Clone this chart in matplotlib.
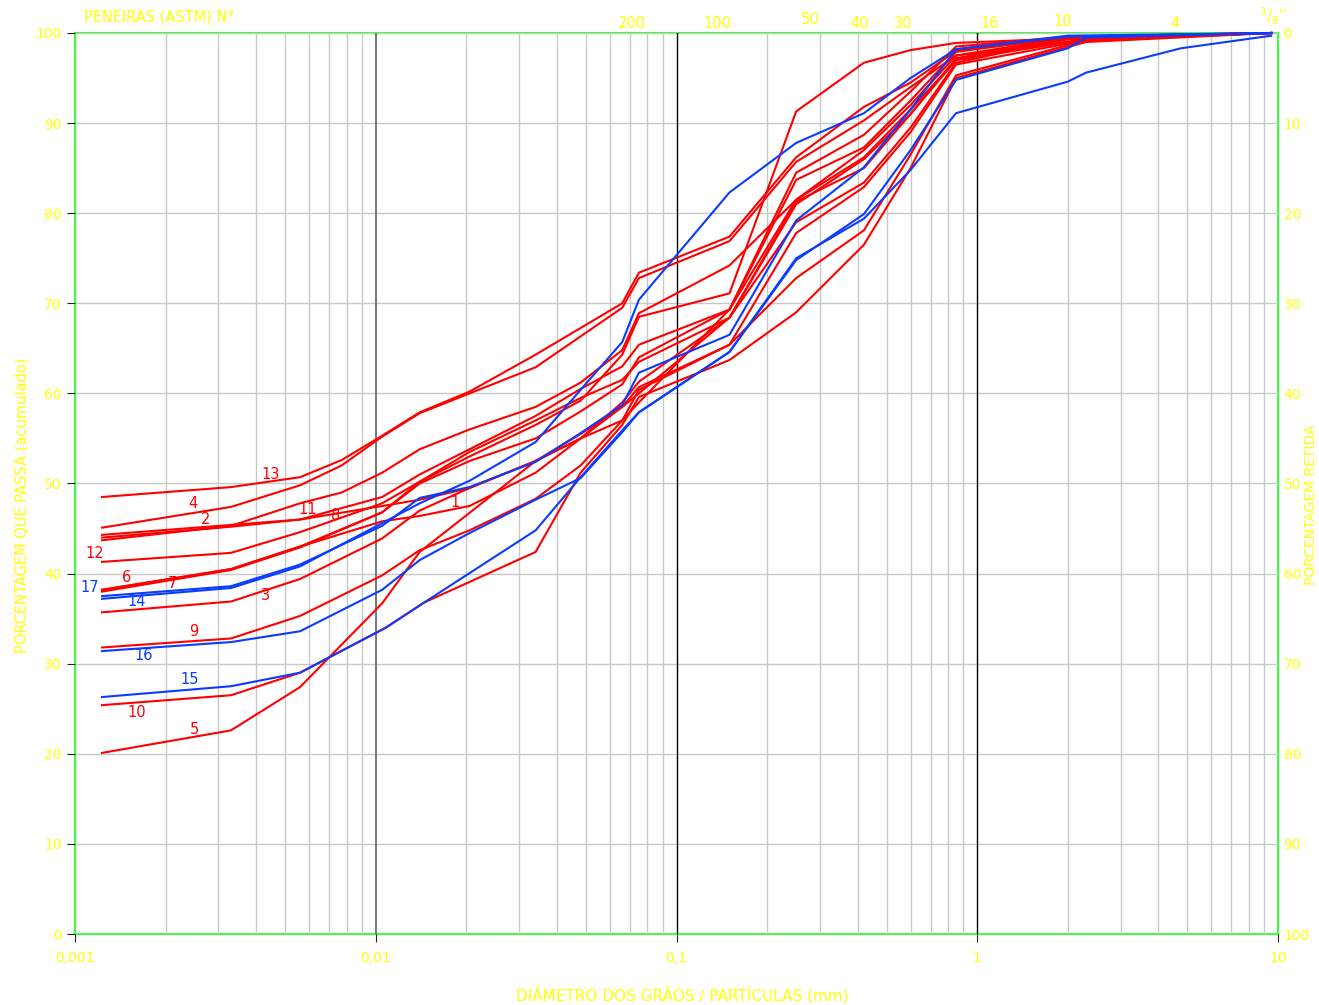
import matplotlib
matplotlib.use("Agg")
import matplotlib.pyplot as plt
import numpy as np

# ---------------- data ----------------
c1_x = [0.00123, 0.0033, 0.0056, 0.0105, 0.014, 0.0205, 0.034, 0.048, 0.066, 0.075, 0.15, 0.25, 0.42, 0.6, 0.85, 2.0, 9.5]
c1_y = [38.2, 40.5, 43.0, 45.8, 46.4, 47.5, 51.2, 55.0, 59.0, 61.3, 68.4, 79.0, 83.4, 89.5, 96.7, 99.4, 100]
c2_x = [0.00123, 0.0033, 0.0056, 0.0105, 0.014, 0.0205, 0.034, 0.048, 0.066, 0.075, 0.15, 0.25, 0.42, 0.6, 0.85, 2.0, 9.5]
c2_y = [44.3, 45.4, 46.0, 48.5, 51.0, 53.8, 57.5, 60.5, 63.0, 65.4, 69.3, 84.5, 88.7, 93.5, 98.5, 99.6, 100]
c3_x = [0.00123, 0.0033, 0.0056, 0.0105, 0.014, 0.0205, 0.034, 0.048, 0.066, 0.075, 0.15, 0.25, 0.42, 0.6, 0.85, 2.3, 9.5]
c3_y = [35.7, 36.9, 39.4, 43.9, 47.0, 49.5, 52.5, 55.5, 58.5, 60.0, 68.4, 81.0, 86.0, 91.0, 97.0, 99.3, 100]
c4_x = [0.00123, 0.0033, 0.0056, 0.0077, 0.0105, 0.014, 0.0205, 0.034, 0.066, 0.075, 0.15, 0.25, 0.42, 0.6, 0.85, 2.3, 9.5]
c4_y = [45.1, 47.4, 49.8, 52.0, 55.2, 57.8, 60.0, 62.9, 69.5, 72.8, 76.9, 85.7, 90.3, 94.0, 97.5, 99.3, 100]
c5_x = [0.00123, 0.0033, 0.0056, 0.0105, 0.014, 0.034, 0.048, 0.066, 0.075, 0.15, 0.25, 0.42, 0.6, 0.85, 2.0, 9.5]
c5_y = [20.1, 22.6, 27.4, 36.7, 42.4, 52.5, 55.0, 57.0, 59.0, 69.3, 81.5, 87.0, 92.0, 97.5, 99.5, 100]
c6_x = [0.00123, 0.0033, 0.0056, 0.0105, 0.014, 0.0205, 0.034, 0.048, 0.066, 0.075, 0.15, 0.25, 0.42, 0.6, 0.85, 2.0, 9.5]
c6_y = [38.2, 40.5, 43.0, 46.8, 50.2, 53.5, 57.0, 59.5, 61.5, 63.5, 68.4, 81.3, 85.0, 91.0, 97.2, 99.4, 100]
c7_x = [0.00123, 0.0033, 0.0056, 0.0105, 0.014, 0.0205, 0.034, 0.048, 0.066, 0.075, 0.15, 0.25, 0.42, 0.6, 0.85, 2.0, 9.5]
c7_y = [38.0, 40.4, 42.9, 46.8, 50.0, 52.5, 55.0, 58.0, 61.0, 64.0, 69.3, 83.7, 87.3, 92.5, 97.9, 99.6, 100]
c8_x = [0.00123, 0.0033, 0.0056, 0.0105, 0.014, 0.0205, 0.034, 0.048, 0.066, 0.075, 0.15, 0.25, 0.42, 0.6, 0.85, 2.3, 9.5]
c8_y = [44.0, 45.2, 46.0, 47.5, 48.2, 49.5, 52.5, 55.0, 58.5, 60.7, 65.4, 77.8, 82.9, 89.0, 96.5, 99.2, 100]
c9_x = [0.00123, 0.0033, 0.0056, 0.0105, 0.014, 0.0205, 0.034, 0.048, 0.066, 0.075, 0.15, 0.25, 0.42, 0.6, 0.85, 2.3, 9.5]
c9_y = [31.8, 32.8, 35.3, 39.8, 42.6, 44.8, 48.3, 52.0, 57.0, 60.4, 65.4, 72.8, 78.1, 86.5, 95.3, 99.2, 100]
c10_x = [0.00123, 0.0033, 0.0056, 0.0108, 0.0145, 0.034, 0.048, 0.066, 0.075, 0.15, 0.25, 0.42, 0.6, 0.85, 2.3, 9.5]
c10_y = [25.4, 26.5, 29.0, 34.0, 36.8, 42.4, 51.2, 56.5, 59.6, 63.7, 69.0, 76.5, 85.0, 95.0, 99.0, 100]
c11_x = [0.00123, 0.0033, 0.0056, 0.0077, 0.0105, 0.014, 0.0205, 0.034, 0.048, 0.066, 0.075, 0.15, 0.25, 0.42, 0.6, 0.85, 2.0, 9.5]
c11_y = [43.7, 45.3, 47.8, 49.0, 51.2, 53.8, 56.0, 58.5, 61.2, 64.8, 68.9, 74.2, 81.5, 86.2, 91.5, 97.0, 99.3, 100]
c12_x = [0.00123, 0.0033, 0.0056, 0.0105, 0.014, 0.0205, 0.034, 0.048, 0.066, 0.075, 0.15, 0.25, 0.42, 0.6, 0.85, 2.0, 9.5]
c12_y = [41.3, 42.3, 44.6, 47.8, 50.2, 53.0, 56.5, 59.2, 64.3, 68.5, 71.1, 91.3, 96.7, 98.1, 98.9, 99.4, 100]
c13_x = [0.00123, 0.0033, 0.0056, 0.0077, 0.0105, 0.014, 0.0205, 0.034, 0.066, 0.075, 0.15, 0.25, 0.42, 0.6, 0.85, 2.0, 9.5]
c13_y = [48.5, 49.6, 50.7, 52.6, 55.3, 57.9, 60.2, 64.3, 70.0, 73.4, 77.4, 86.2, 91.8, 94.5, 98.0, 99.5, 100]
c14_x = [0.00123, 0.0033, 0.0056, 0.0105, 0.014, 0.0205, 0.034, 0.048, 0.066, 0.075, 0.15, 0.25, 0.42, 0.6, 0.85, 2.0, 9.5]
c14_y = [37.2, 38.4, 40.8, 45.6, 47.8, 50.3, 54.6, 60.4, 65.7, 70.4, 82.3, 87.8, 91.1, 95.0, 98.2, 99.6, 100]
c15_x = [0.00123, 0.0033, 0.0056, 0.0108, 0.0145, 0.034, 0.048, 0.066, 0.075, 0.15, 0.25, 0.42, 0.6, 0.85, 2.0, 2.3, 9.5]
c15_y = [26.3, 27.5, 29.0, 34.0, 36.8, 44.8, 50.7, 55.9, 57.9, 64.6, 74.8, 79.9, 87.0, 94.8, 98.3, 99.5, 100]
c16_x = [0.00123, 0.0033, 0.0056, 0.0105, 0.014, 0.0205, 0.034, 0.048, 0.066, 0.075, 0.15, 0.25, 0.42, 0.6, 0.85, 2.0, 2.3, 4.75, 9.5]
c16_y = [31.4, 32.4, 33.6, 38.2, 41.5, 44.5, 48.2, 50.6, 55.7, 57.9, 64.6, 75.0, 79.4, 84.8, 91.1, 94.6, 95.6, 98.3, 99.7]
c17_x = [0.00123, 0.0033, 0.0056, 0.0105, 0.014, 0.0205, 0.034, 0.048, 0.066, 0.075, 0.15, 0.25, 0.42, 0.6, 0.85, 2.0, 9.5]
c17_y = [37.5, 38.6, 41.0, 45.3, 48.4, 49.6, 52.4, 55.6, 58.7, 62.3, 66.5, 79.2, 85.1, 91.5, 98.2, 99.7, 100]

curves = {
    "1": (c1_x, c1_y, "red"), "2": (c2_x, c2_y, "red"), "3": (c3_x, c3_y, "red"),
    "4": (c4_x, c4_y, "red"), "5": (c5_x, c5_y, "red"), "6": (c6_x, c6_y, "red"),
    "7": (c7_x, c7_y, "red"), "8": (c8_x, c8_y, "red"), "9": (c9_x, c9_y, "red"),
    "10": (c10_x, c10_y, "red"), "11": (c11_x, c11_y, "red"), "12": (c12_x, c12_y, "red"),
    "13": (c13_x, c13_y, "red"), "14": (c14_x, c14_y, "blue"), "15": (c15_x, c15_y, "blue"),
    "16": (c16_x, c16_y, "blue"), "17": (c17_x, c17_y, "blue"),
}

sieve_labels = ["200", "100", "50", "40", "30", "16", "10", "4", r"$^{3}/_{8}$''"]
x_tick_vals = [0.001, 0.01, 0.1, 1, 10]
x_tick_labels = ["0,001", "0,01", "0,1", "1", "10"]
y_ticks = list(range(0, 101, 10))

# ---------------- layout ----------------
W, H = 1319, 1005
X0, X1, Y0, Y1 = 75, 1278, 33, 934   # axes pixel box (top-left origin)
YEL = "#ffff00"
RED = "#ff0000"
BLUE = "#0a3cff"

def px2d(px):
    return 10 ** ((px - X0) / ((X1 - X0) / 4.0) - 3)

def py2d(py):
    return (Y1 - py) / ((Y1 - Y0) / 100.0)

plt.rcParams['font.family'] = ['DejaVu Sans']
fig = plt.figure(figsize=(W / 100, H / 100), dpi=100)
fig.patch.set_facecolor("white")
ax = fig.add_axes([X0 / W, 1 - Y1 / H, (X1 - X0) / W, (Y1 - Y0) / H])
ax.set_xscale("log")
ax.set_xlim(0.001, 10)
ax.set_ylim(0, 100)

# grid
ax.set_yticks(y_ticks)
ax.set_xticks(x_tick_vals)
ax.set_xticks([m * 10.0 ** e for e in range(-3, 1) for m in range(2, 10)], minor=True)
ax.grid(which="minor", axis="x", color="#c8c8c8", lw=1.0)
ax.grid(which="major", axis="y", color="#c8c8c8", lw=1.0)
ax.axvline(0.01, color="#606060", lw=1.2, zorder=1)
ax.axvline(0.1, color="black", lw=1.0, zorder=1)
ax.axvline(1, color="black", lw=1.0, zorder=1)
ax.set_axisbelow(True)

for s in ax.spines.values():
    s.set_color("#3cff3c")
    s.set_linewidth(1.5)
    s.set_zorder(0.5)

ax.set_xticklabels(x_tick_labels)
ax.tick_params(axis="x", which="major", colors="#222222", labelcolor=YEL, labelsize=10, length=6, pad=6)
ax.tick_params(axis="x", which="minor", length=0)
ax.tick_params(axis="y", colors="#222222", labelcolor=YEL, labelsize=10, length=6)

ax2 = ax.twinx()
ax2.set_ylim(100, 0)
ax2.set_yticks(y_ticks)
ax2.tick_params(axis="y", length=0, labelcolor=YEL, labelsize=10, pad=4)
for s in ax2.spines.values():
    s.set_visible(False)

# curves
for name, (xs, ys, col) in curves.items():
    ax.plot(xs, ys, color=RED if col == "red" else BLUE, lw=1.5, zorder=3, clip_on=False,
            solid_joinstyle="miter")

# curve labels (pixel positions of the label centres)
label_pos = {
    "13": (271, 474), "4": (193, 503), "2": (206, 519), "11": (308, 509), "8": (336, 515),
    "1": (455, 502), "12": (95, 553), "6": (127, 578), "7": (172, 583), "17": (90, 587),
    "14": (137, 601), "3": (266, 596), "9": (194, 632), "16": (144, 655), "15": (190, 680),
    "10": (137, 712), "5": (194, 729),
}
for name, (px, py) in label_pos.items():
    col = RED if curves[name][2] == "red" else BLUE
    ax.text(px2d(px), py2d(py), name, color=col, fontsize=10.5, ha="center", va="center",
            zorder=4, clip_on=False)

# sieve numbers along the top
sieve_pos = [(632, 23), (717, 23), (810, 20), (860, 23), (903, 23), (990, 23), (1063, 21), (1175, 23), (1273, 16)]
for lab, (px, py) in zip(sieve_labels, sieve_pos):
    fig.text(px / W, 1 - py / H, lab, color=YEL, fontsize=10.5, ha="center", va="center")

fig.text(84 / W, 1 - 17 / H, "PENEIRAS (ASTM) N°", color=YEL, fontsize=10.5, ha="left", va="center")
fig.text(682 / W, 1 - 995 / H, "DIÂMETRO DOS GRÃOS / PARTÍCULAS (mm)", color=YEL, fontsize=11,
         ha="center", va="center")
fig.text(22 / W, 1 - 505 / H, "PORCENTAGEM QUE PASSA (acumulado)", color=YEL, fontsize=10.5,
         rotation=90, ha="center", va="center")
fig.text(1311 / W, 1 - 505 / H, "PORCENTAGEM RETIDA", color=YEL, fontsize=10,
         rotation=90, ha="center", va="center")

fig.savefig("out.png", dpi=100, facecolor="white")
